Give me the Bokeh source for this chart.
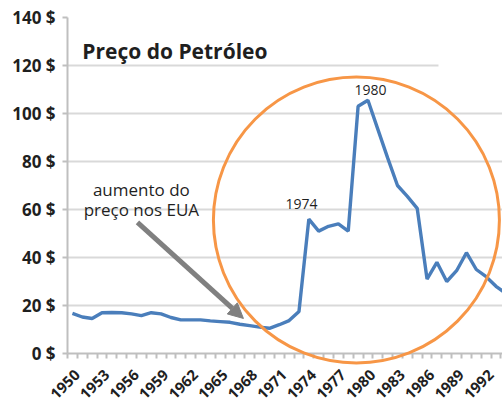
import math
from bokeh.plotting import figure
from bokeh.models import FixedTicker, PrintfTickFormatter, CustomJSTickFormatter, Label, Arrow, NormalHead, Range1d
from bokeh.core.properties import value
from bokeh.embed import file_html
from bokeh.resources import INLINE

# ---- data ----
years = list(range(1950, 1995))
prices = [16.7, 15.2, 14.6, 17.0, 17.1, 17.0, 16.5, 15.8, 17.0, 16.5,
          15.0, 14.0, 14.0, 14.0, 13.6, 13.3, 13.0, 12.2, 11.6, 11.0,
          10.5, 12.0, 13.7, 17.5, 56.0, 51.0, 53.0, 54.0, 51.0, 103.0,
          105.5, 93.5, 81.5, 70.0, 65.5, 60.5, 31.0, 38.0, 30.0, 34.5,
          42.0, 35.0, 32.0, 28.0, 25.0]
y_ticks = [0, 20, 40, 60, 80, 100, 120, 140]
x_label_years = list(range(1950, 1993, 3))
x_label_text = [str(y) for y in x_label_years]
title_text = "Preço do Petróleo"
note_lines = ["aumento do", "preço nos EUA"]
peak_labels = ["1974", "1980"]
peak_x = [1973.25, 1980.25]
peak_y = [62.5, 109.8]

FONT = "Open Sans"
BLUE = "#4a7ebb"
ORANGE = "#f79646"
GREY = "#808080"
AXIS_GREY = "#bfbfbf"
TEXT = "#1f1f1f"

p = figure(width=502, height=407, output_backend="svg", toolbar_location=None,
           x_range=Range1d(1949.5, 1993.66), y_range=Range1d(0, 140),
           min_border_left=67, min_border_right=0, min_border_top=17, min_border_bottom=54)
p.outline_line_color = None
p.background_fill_color = "white"
p.border_fill_color = "white"

p.xgrid.visible = False
p.ygrid.grid_line_color = "#d9d9d9"
p.ygrid.grid_line_width = 2

# x axis: a tick between every category, labels drawn below as text
cat_edges = [years[0] - 0.5 + k for k in range(len(years) + 1)]
p.xaxis.ticker = FixedTicker(ticks=cat_edges, minor_ticks=[])
p.xaxis.formatter = CustomJSTickFormatter(code="return ''")
p.xaxis.axis_line_color = AXIS_GREY
p.xaxis.axis_line_width = 2
p.xaxis.major_tick_line_color = AXIS_GREY
p.xaxis.major_tick_line_width = 2
p.xaxis.major_tick_in = 0
p.xaxis.major_tick_out = 5
p.xaxis.minor_tick_line_color = None

p.yaxis.ticker = FixedTicker(ticks=y_ticks, minor_ticks=[])
p.yaxis.formatter = PrintfTickFormatter(format="%d $")
p.yaxis.major_label_text_font = FONT
p.yaxis.major_label_text_font_style = "bold"
p.yaxis.major_label_text_font_size = "17px"
p.yaxis.major_label_text_color = TEXT
p.yaxis.major_label_standoff = 7
p.yaxis.axis_line_color = AXIS_GREY
p.yaxis.axis_line_width = 2
p.yaxis.major_tick_line_color = AXIS_GREY
p.yaxis.major_tick_line_width = 2
p.yaxis.major_tick_in = 0
p.yaxis.major_tick_out = 5
p.yaxis.minor_tick_line_color = None

# cover top-right part of upper gridlines (as in reference)
p.quad(left=[1987.16], right=[1995], bottom=[110], top=[141], fill_color="white", line_color=None)

# year labels (rotated) under the axis
p.text(x=x_label_years, y=[0] * len(x_label_years), text=x_label_text,
       angle=math.pi / 4, x_offset=5, y_offset=19,
       text_align="right", text_baseline="middle",
       text_font=value(FONT), text_font_style="bold", text_font_size="15px",
       text_color=TEXT, level="overlay")

# price line
p.line(years, prices, line_color=BLUE, line_width=3.4)

# highlight circle
p.scatter(x=[1978.83], y=[55.6], size=286, marker="circle", fill_alpha=0,
          line_color=ORANGE, line_width=3, level="overlay")

# arrow
p.add_layout(Arrow(x_start=1956.6, y_start=54.6, x_end=1967.36, y_end=14.6,
                   line_color=GREY, line_width=5,
                   end=NormalHead(size=15, fill_color=GREY, line_color=GREY)))

# texts
p.add_layout(Label(x=1951.0, y=126.25, text=title_text, text_font=FONT, text_font_style="bold",
                   text_font_size="21px", text_color=TEXT, text_baseline="alphabetic"))
p.add_layout(Label(x=1957.0, y=68.3, text=note_lines[0], text_font=FONT, text_font_size="17px",
                   text_color=TEXT, text_align="center", text_baseline="alphabetic"))
p.add_layout(Label(x=1957.0, y=60.0, text=note_lines[1], text_font=FONT, text_font_size="17px",
                   text_color=TEXT, text_align="center", text_baseline="alphabetic"))
for t, lx, ly in zip(peak_labels, peak_x, peak_y):
    p.add_layout(Label(x=lx, y=ly, text=t, text_font=FONT, text_font_size="14px",
                       text_color=TEXT, text_align="center", text_baseline="middle"))

open("out.html", "w").write(file_html(p, INLINE))
